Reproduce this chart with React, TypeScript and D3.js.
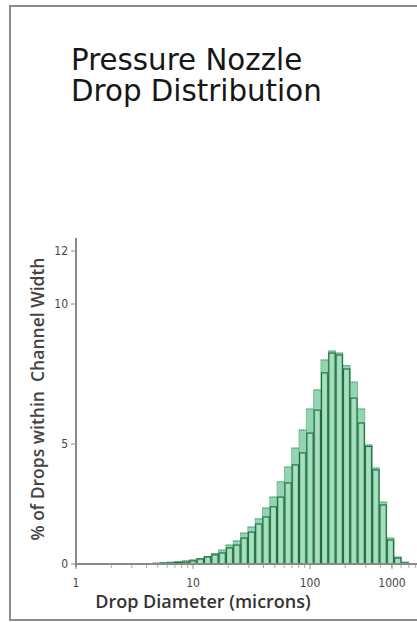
import React, { useEffect, useRef } from 'react';
import * as d3 from 'd3';

// log bins, 16 per decade, first bin centred on 10^(10/16)
const binsPerDecade = 16;
const firstBin = 10;

// % of drops per bin (outer light bars)
const outerValues = [0.02, 0.04, 0.06, 0.08, 0.10, 0.13, 0.17, 0.23, 0.31, 0.44, 0.58, 0.79, 0.96, 1.29, 1.54, 1.88, 2.33, 2.79, 3.42, 4.04, 4.83, 5.5, 6.25, 6.93, 8.0, 8.32, 8.25, 7.8, 7.21, 6.25, 4.96, 4.0, 2.58, 1.08, 0.29, 0.08];
// inner dark-outlined bars
const innerValues = [0.01, 0.02, 0.03, 0.04, 0.06, 0.08, 0.13, 0.21, 0.29, 0.38, 0.46, 0.67, 0.79, 1.08, 1.33, 1.67, 1.96, 2.38, 2.79, 3.38, 4.13, 4.63, 5.39, 6.21, 7.54, 8.25, 8.18, 7.68, 6.64, 5.75, 4.9, 3.92, 2.46, 1.0, 0.25, 0.04];

const yTicks = [0, 5, 10, 12];
const xTicks = [1, 10, 100, 1000];
const titleLines = ['Pressure Nozzle', 'Drop Distribution'];

const App: React.FC = () => {
  const svgRef = useRef<SVGSVGElement>(null);

  useEffect(() => {
    if (!svgRef.current) return;
    const svg = d3.select(svgRef.current);
    svg.selectAll('*').remove();

    const width = 417;

    // y ticks in the original are not evenly spaced, so use a polylinear scale
    const y = d3.scaleLinear().domain([0, 5, 10, 12]).range([564, 444, 304, 251]);
    const x = d3.scaleLog().domain([1, 100]).range([76, 310]);
    const halfBin = Math.pow(10, 0.5 / binsPerDecade);

    const bins = outerValues.map((v, i) => {
      const c = Math.pow(10, (firstBin + i) / binsPerDecade);
      return { x0: x(c / halfBin), x1: x(c * halfBin), outer: v, inner: innerValues[i] };
    });

    // frame
    svg.append('rect')
      .attr('x', 10).attr('y', 6)
      .attr('width', 430).attr('height', 614)
      .attr('fill', '#fff')
      .attr('stroke', '#8c8c8c')
      .attr('stroke-width', 2);

    // title, one text per line
    svg.selectAll('.title')
      .data(titleLines)
      .enter()
      .append('text')
      .attr('class', 'title')
      .attr('x', 71)
      .attr('y', (d, i) => 70 + i * 31)
      .attr('font-family', "'DejaVu Sans', sans-serif")
      .attr('font-size', 29.3)
      .attr('fill', '#161616')
      .text(d => d);

    const bars = svg.append('g');

    // outer light bars
    bars.selectAll('.outer')
      .data(bins)
      .enter()
      .append('rect')
      .attr('class', 'outer')
      .attr('x', d => d.x0)
      .attr('y', d => y(d.outer))
      .attr('width', d => d.x1 - d.x0)
      .attr('height', d => y(0) - y(d.outer))
      .attr('fill', '#95d4b2')
      .attr('stroke', '#66ba8d')
      .attr('stroke-width', 0.8);

    // dotted top of the light bars
    bars.selectAll('.outer-top')
      .data(bins)
      .enter()
      .append('line')
      .attr('x1', d => d.x0).attr('x2', d => d.x1)
      .attr('y1', d => y(d.outer)).attr('y2', d => y(d.outer))
      .attr('stroke', '#3f9a68')
      .attr('stroke-width', 1)
      .attr('stroke-dasharray', '1,1');

    // light stripe in the middle of each bar
    bars.selectAll('.stripe')
      .data(bins)
      .enter()
      .append('rect')
      .attr('x', d => d.x0 + 2)
      .attr('y', d => y(d.inner) + 1)
      .attr('width', d => Math.max(0, d.x1 - d.x0 - 4))
      .attr('height', d => Math.max(0, y(0) - y(d.inner) - 1))
      .attr('fill', '#b4e2c8')
      .attr('opacity', 0.7);

    // inner dark outlined bars
    bars.selectAll('.inner')
      .data(bins)
      .enter()
      .append('rect')
      .attr('class', 'inner')
      .attr('x', d => d.x0 + 0.5)
      .attr('y', d => y(d.inner))
      .attr('width', d => d.x1 - d.x0 - 1)
      .attr('height', d => y(0) - y(d.inner))
      .attr('fill', 'none')
      .attr('stroke', '#1f6d3e')
      .attr('stroke-width', 1.1);

    const tickFont = "'Liberation Sans Narrow', 'DejaVu Sans Condensed', sans-serif";

    // y axis
    svg.append('line')
      .attr('x1', x(1)).attr('x2', x(1))
      .attr('y1', 238).attr('y2', y(0) + 3)
      .attr('stroke', '#8a8a8a').attr('stroke-width', 2);

    const yAxis = svg.append('g');
    yTicks.forEach(t => {
      yAxis.append('line')
        .attr('x1', x(1) - 5).attr('x2', x(1))
        .attr('y1', y(t)).attr('y2', y(t))
        .attr('stroke', '#8a8a8a').attr('stroke-width', 1);
      yAxis.append('text')
        .attr('x', x(1) - 8).attr('y', y(t))
        .attr('dy', '0.35em')
        .attr('text-anchor', 'end')
        .attr('font-family', tickFont)
        .attr('font-size', 12)
        .attr('fill', '#444')
        .text(t);
    });

    // x axis
    svg.append('line')
      .attr('x1', x(1) - 1).attr('x2', width)
      .attr('y1', y(0)).attr('y2', y(0))
      .attr('stroke', '#8a8a8a').attr('stroke-width', 2);

    const minor = x.ticks().filter(v => !xTicks.includes(v));
    const extraMinor = d3.range(200, 1000, 100);
    svg.append('g')
      .selectAll('line')
      .data([...minor, ...extraMinor].filter(v => x(v) < width))
      .enter()
      .append('line')
      .attr('x1', d => x(d)).attr('x2', d => x(d))
      .attr('y1', y(0) + 1).attr('y2', y(0) + 4)
      .attr('stroke', '#aaa').attr('stroke-width', 1);

    const xAxis = svg.append('g');
    xTicks.forEach(t => {
      // the last label sits inside the frame
      const tx = Math.min(x(t), width - 25);
      xAxis.append('line')
        .attr('x1', tx).attr('x2', tx)
        .attr('y1', y(0)).attr('y2', y(0) + 5)
        .attr('stroke', '#8a8a8a').attr('stroke-width', 1);
      xAxis.append('text')
        .attr('x', tx).attr('y', y(0) + 23)
        .attr('text-anchor', 'middle')
        .attr('font-family', tickFont)
        .attr('font-size', 12)
        .attr('fill', '#444')
        .text(t);
    });

    // axis titles
    svg.append('text')
      .attr('x', 203).attr('y', 608)
      .attr('text-anchor', 'middle')
      .attr('font-family', "'Open Sans', sans-serif")
      .attr('font-weight', 600)
      .attr('font-size', 18)
      .attr('fill', '#333')
      .text('Drop Diameter (microns)');

    svg.append('text')
      .attr('transform', 'translate(44,399) rotate(-90)')
      .attr('text-anchor', 'middle')
      .attr('font-family', "'Open Sans', sans-serif")
      .attr('font-weight', 600)
      .attr('font-size', 17.5)
      .attr('fill', '#444')
      .style('white-space', 'pre')
      .text('% of Drops within  Channel Width');
  }, []);

  return (
    <div style={{ position: 'absolute', left: 0, top: 0 }}>
      <svg ref={svgRef} width={417} height={622} style={{ display: 'block' }} />
    </div>
  );
};

export default App;
